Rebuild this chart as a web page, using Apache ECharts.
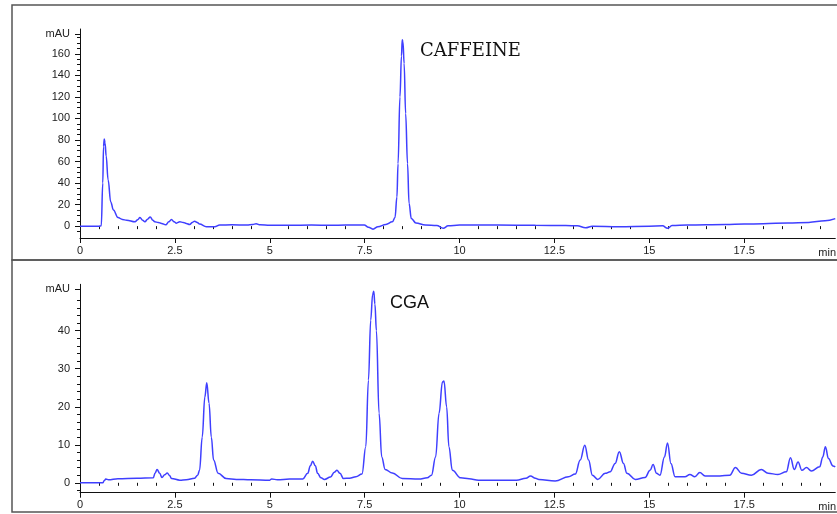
<!DOCTYPE html>
<html>
<head>
<meta charset="utf-8">
<script src="https://cdn.jsdelivr.net/npm/echarts@6/dist/echarts.min.js"></script>
<style>
html,body{margin:0;padding:0;background:#fff;}
#chart{width:837px;height:514px;}
</style>
</head>
<body>
<div id="chart"></div>
<script>
// Top chromatogram (caffeine), time in min / absorbance in mAU
const caffeineTime = [0,0.5,0.56,0.6,0.62,0.64,0.66,0.69,0.74,0.81,0.88,1.0,1.12,1.23,1.45,1.52,1.58,1.65,1.71,1.78,1.85,1.92,1.97,2.06,2.15,2.26,2.34,2.41,2.48,2.54,2.63,2.72,2.8,2.89,2.96,3.02,3.09,3.15,3.33,3.55,3.68,4.0,4.4,4.55,4.64,4.75,5.0,5.5,6.1,6.6,7.0,7.49,7.6,7.72,7.85,8.06,8.23,8.3,8.35,8.38,8.43,8.47,8.49,8.51,8.54,8.58,8.63,8.67,8.73,8.85,9.1,9.4,9.57,9.7,10.0,11.0,12.0,12.8,13.1,13.32,13.5,14.2,15.0,15.35,15.48,15.6,16.0,17.0,17.5,18.0,18.65,19.2,19.63,19.9];
const caffeineMAU  = [0,0,0.3,40,74,81,77,65,43,22.5,15,8,6.2,5.5,4,6,8,5.5,4,6.5,8.6,5.5,4,3.5,2.5,1.2,4,6.2,4,2.8,4,3.5,2.5,1.5,3.5,4.6,3.5,1.9,-0.6,-0.6,1,1.2,1,1.5,2.2,1.2,0.8,0.8,1,0.8,1,1,-1,-2.8,-0.5,1.6,4,8,27,58,120,158,173,171,151,104.5,58,21,7,3,1,0.5,-2,0.3,1,1,0.8,0.5,0.3,-1.5,0,-0.5,0,0.3,-2,0.5,1,1.5,2,2.2,3,3.5,5,7];

// Bottom chromatogram (CGA)
const cgaTime = [0,0.6,0.64,0.68,0.75,1.0,1.5,1.93,1.98,2.03,2.1,2.16,2.23,2.3,2.36,2.41,2.63,2.8,3.02,3.1,3.15,3.22,3.29,3.34,3.4,3.46,3.52,3.64,3.85,4.12,4.5,5.0,5.05,5.2,5.52,5.87,6.0,6.07,6.13,6.2,6.26,6.35,6.44,6.6,6.7,6.77,6.85,6.94,7.1,7.27,7.43,7.53,7.6,7.66,7.71,7.74,7.77,7.81,7.88,7.95,8.04,8.23,8.49,8.93,9.15,9.26,9.37,9.46,9.55,9.59,9.66,9.72,9.81,10.03,10.25,10.5,11.5,11.75,11.87,12.0,12.09,12.52,12.87,13.05,13.18,13.3,13.4,13.5,13.64,13.84,13.97,14.1,14.21,14.32,14.41,14.63,14.89,15.02,15.1,15.19,15.28,15.4,15.48,15.57,15.68,15.94,16.07,16.2,16.33,16.47,16.86,17.12,17.27,17.43,17.69,17.95,18.13,18.39,18.61,18.72,18.82,18.92,19.02,19.14,19.27,19.49,19.57,19.64,19.72,19.84,19.9];
const cgaMAU  = [0,0,0.6,1.0,0.8,1.1,1.2,1.3,2.6,3.5,2.5,1.4,2.1,2.6,1.9,1.15,0.7,0.8,1.2,2,3.3,12,22.6,26.3,20.9,12,6,2.5,1.15,0.9,0.8,0.7,1,0.8,1,1,2.5,4.5,5.7,4.5,2.5,1.3,0.9,1.5,2.8,3.3,2.5,1.15,1.2,1.6,2.3,9.5,27,42.8,49.5,50.4,47,40,18.3,6.8,3.5,2.6,1.15,1,1.3,2,6.8,18.3,26.5,26.8,20,9.5,3.3,1.3,1.05,0.7,0.7,1.2,1.8,1.2,0.9,0.5,1.6,2.3,6,9.9,6,2,0.9,2.5,2.9,5.1,8.2,5.1,2.5,0.9,1.4,3.3,4.8,2.5,2,6.8,10.5,5.1,1.6,1.6,2.2,1.6,2.7,1.8,1.8,2,4,2.5,2,3.5,2.5,2.2,2.9,6.6,3.5,5.5,3.3,4,3.1,4.2,6.8,9.5,6.4,4.4,4.2];

// Axis ticks / labels
const timeTicks = [0,2.5,5,7.5,10,12.5,15,17.5];
const timeMinorTicks = [0.5,1,1.5,2,3,3.5,4,4.5,5.5,6,6.5,7,8,8.5,9,9.5,10.5,11,11.5,12,13,13.5,14,14.5,15.5,16,16.5,17,18,18.5,19,19.5];
const topTicks = [0,20,40,60,80,100,120,140,160,178];
const topMinorTicks = [-5,5,10,15,25,30,35,45,50,55,65,70,75,85,90,95,105,110,115,125,130,135,145,150,155,165,170,175];
const bottomTicks = [0,10,20,30,40,51];
const bottomMinorTicks = [-2,2,4,6,8,12,14,16,18,22,24,26,28,32,34,36,38,42,44,46,48];
const topUnitTick = 178, bottomUnitTick = 51;
const topPeakLabel = 'CAFFEINE', bottomPeakLabel = 'CGA';

const zip = (a, b) => a.map((t, i) => [t, b[i]]);
const lineColor = '#3f3fff';
const txtColor = '#222';
const axisLineStyle = {color: '#111', width: 1};
const sans = 'Liberation Sans, Arial, sans-serif';

function mainX(grid){
  return {
    type: 'value', gridIndex: grid, position: 'bottom', min: 0, max: 19.9,
    axisLine: {show: true, onZero: false, lineStyle: axisLineStyle},
    axisTick: {show: true, customValues: timeTicks, length: 5, lineStyle: {color: '#111'}},
    axisLabel: {show: true, customValues: timeTicks, margin: 7, fontSize: 11, color: txtColor, fontFamily: sans},
    splitLine: {show: false},
    name: 'min', nameLocation: 'end', nameGap: -17,
    nameTextStyle: {fontSize: 11, color: txtColor, fontFamily: sans, verticalAlign: 'top', padding: [9, 0, 0, 0]}
  };
}
function minorX(grid){
  return {
    type: 'value', gridIndex: grid, position: 'bottom', min: 0, max: 19.9,
    axisLine: {show: false}, axisLabel: {show: false}, splitLine: {show: false},
    axisTick: {show: true, customValues: timeMinorTicks, length: 3, lineStyle: {color: '#111'}}
  };
}
function mainY(grid, min, max, ticks, unitTick){
  return {
    type: 'value', gridIndex: grid, position: 'left', min: min, max: max,
    axisLine: {show: true, onZero: false, lineStyle: axisLineStyle},
    axisTick: {show: true, customValues: ticks, length: 5, lineStyle: {color: '#111'}},
    axisLabel: {show: true, customValues: ticks, margin: 10, fontSize: 11, color: txtColor, fontFamily: sans,
      formatter: v => (v === unitTick ? 'mAU' : String(v))},
    splitLine: {show: false}
  };
}
function minorY(grid, min, max, ticks){
  return {
    type: 'value', gridIndex: grid, position: 'left', min: min, max: max, offset: 0,
    axisLine: {show: false}, axisLabel: {show: false}, splitLine: {show: false},
    axisTick: {show: true, customValues: ticks, length: 3, lineStyle: {color: '#111'}}
  };
}

const chart = echarts.init(document.getElementById('chart'), null, {renderer: 'canvas'});
chart.setOption({
  animation: false,
  backgroundColor: '#fff',
  grid: [
    {left: 80, right: 0, top: 29, height: 209},
    {left: 80, right: 0, top: 284.3, height: 208.4}
  ],
  xAxis: [mainX(0), minorX(0), mainX(1), minorX(1)],
  yAxis: [
    mainY(0, -11, 183, topTicks, topUnitTick), minorY(0, -11, 183, topMinorTicks),
    mainY(1, -2.6, 52.2, bottomTicks, bottomUnitTick), minorY(1, -2.6, 52.2, bottomMinorTicks)
  ],
  series: [
    {type: 'line', xAxisIndex: 0, yAxisIndex: 0, data: zip(caffeineTime, caffeineMAU),
      showSymbol: false, smooth: 0.4, smoothMonotone: 'x',
      lineStyle: {color: lineColor, width: 1.5}},
    {type: 'line', xAxisIndex: 2, yAxisIndex: 2, data: zip(cgaTime, cgaMAU),
      showSymbol: false, smooth: 0.4, smoothMonotone: 'x',
      lineStyle: {color: lineColor, width: 1.5}}
  ],
  graphic: [
    {type: 'rect', shape: {x: 12, y: 5, width: 840, height: 255}, style: {fill: 'none', stroke: '#555', lineWidth: 1.5}, z: -1},
    {type: 'rect', shape: {x: 12, y: 260, width: 840, height: 252}, style: {fill: 'none', stroke: '#555', lineWidth: 1.5}, z: -1},
    {type: 'text', left: 420, top: 42, style: {text: topPeakLabel, font: '18px "DejaVu Serif", serif', fill: '#111'}},
    {type: 'text', left: 390, top: 294, style: {text: bottomPeakLabel, font: '18px "Liberation Sans", Arial, sans-serif', fill: '#111'}}
  ]
});
</script>
</body>
</html>
